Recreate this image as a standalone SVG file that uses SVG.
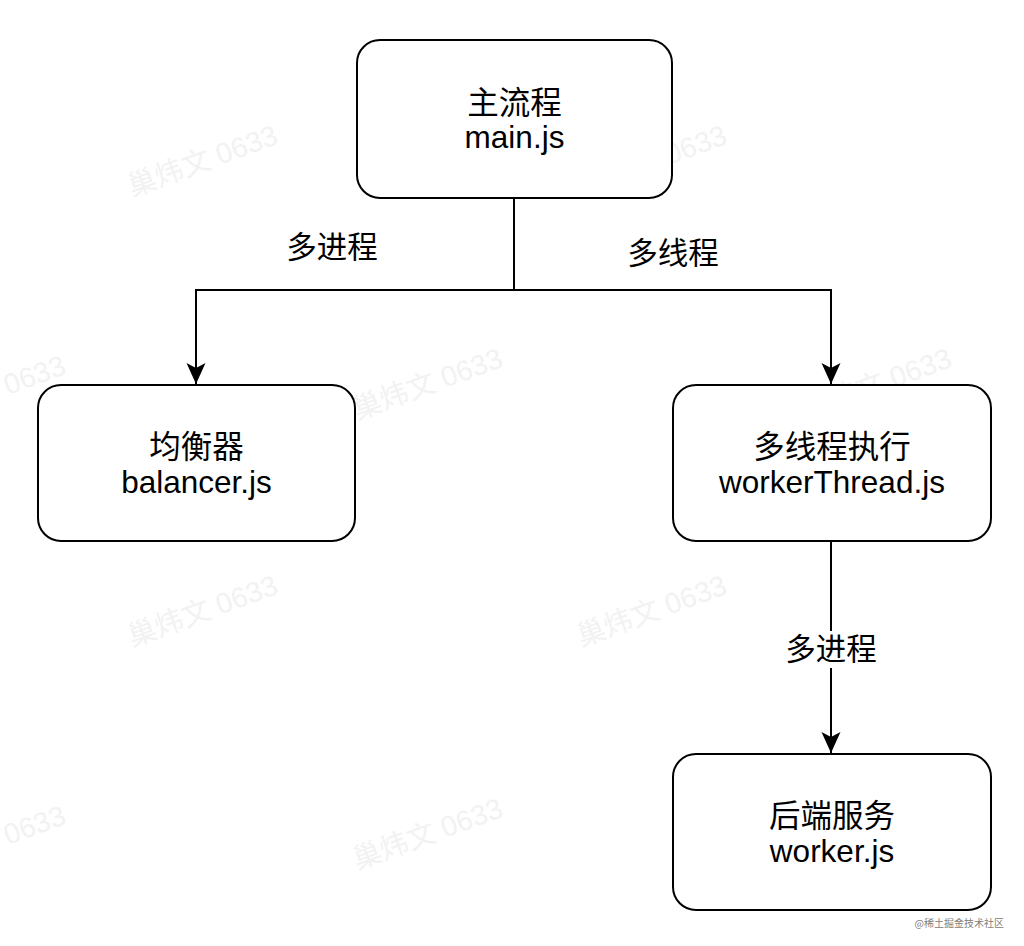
<svg xmlns="http://www.w3.org/2000/svg" width="1024" height="946" viewBox="0 0 1024 946">
<style>
.box{fill:#ffffff;stroke:#000000;stroke-width:2}
.t{font-family:"Liberation Sans","Noto Sans CJK SC",sans-serif;font-size:31.5px;fill:#000000;text-anchor:middle}
.lbl{font-family:"Liberation Sans","Noto Sans CJK SC",sans-serif;font-size:30.5px;fill:#000000;text-anchor:middle}
.edge{fill:none;stroke:#000000;stroke-width:2}
.wm{font-family:"Liberation Sans","Noto Sans CJK SC",sans-serif;font-size:28.5px;fill:#f2f2f2;text-anchor:middle}
.wms{font-family:"Liberation Sans","Noto Sans CJK SC",sans-serif;font-size:28.5px;fill:#f2f2f2;text-anchor:start}
.credit{font-family:"Noto Sans CJK SC",sans-serif;font-size:10px;fill:#808080;text-anchor:end}
</style>
<defs>
<marker id="arr" viewBox="0 0 22 22" refX="21" refY="11" markerWidth="22" markerHeight="22" markerUnits="userSpaceOnUse" orient="auto">
<path d="M21,11 L0,1.5 L5,11 L0,20.5 Z" fill="#000000"/>
</marker>
</defs>
<rect width="1024" height="946" fill="#ffffff"/>
<g id="watermarks">
<text class="wm" transform="translate(206,170) rotate(-20)">巢炜文 0633</text>
<text class="wm" transform="translate(655,170) rotate(-20)">巢炜文 0633</text>
<text class="wms" transform="translate(8,395) rotate(-20)">0633</text>
<text class="wm" transform="translate(431,393) rotate(-20)">巢炜文 0633</text>
<text class="wm" transform="translate(880,393) rotate(-20)">巢炜文 0633</text>
<text class="wm" transform="translate(206,620) rotate(-20)">巢炜文 0633</text>
<text class="wm" transform="translate(655,620) rotate(-20)">巢炜文 0633</text>
<text class="wms" transform="translate(8,845) rotate(-20)">0633</text>
<text class="wm" transform="translate(431,843) rotate(-20)">巢炜文 0633</text>
<text class="wm" transform="translate(880,843) rotate(-20)">巢炜文 0633</text>
</g>
<g id="connectors">
<path class="edge" d="M514,198 L514,290 L196,290 L196,384" marker-end="url(#arr)"/>
<path class="edge" d="M514,290 L831,290 L831,384" marker-end="url(#arr)"/>
<path class="edge" d="M831,541 L831,753" marker-end="url(#arr)"/>
<text class="lbl" x="332" y="258">多进程</text>
<text class="lbl" x="673" y="264">多线程</text>
<rect x="784" y="631" width="94" height="37" fill="#ffffff"/>
<text class="lbl" x="831" y="660">多进程</text>
</g>
<g id="node-main">
<rect class="box" x="357" y="40" width="315" height="158" rx="23" ry="23"/>
<text class="t" x="514.5" y="114">主流程</text>
<text class="t" x="514.5" y="148">main.js</text>
</g>
<g id="node-balancer">
<rect class="box" x="38" y="385" width="317" height="156" rx="23" ry="23"/>
<text class="t" x="196.5" y="458">均衡器</text>
<text class="t" x="196.5" y="493">balancer.js</text>
</g>
<g id="node-workerThread">
<rect class="box" x="673" y="385" width="318" height="156" rx="23" ry="23"/>
<text class="t" x="832" y="458">多线程执行</text>
<text class="t" x="832" y="493">workerThread.js</text>
</g>
<g id="node-worker">
<rect class="box" x="673" y="754" width="318" height="156" rx="23" ry="23"/>
<text class="t" x="832" y="827">后端服务</text>
<text class="t" x="832" y="862">worker.js</text>
</g>
<text class="credit" x="1004" y="927">@稀土掘金技术社区</text>
</svg>
